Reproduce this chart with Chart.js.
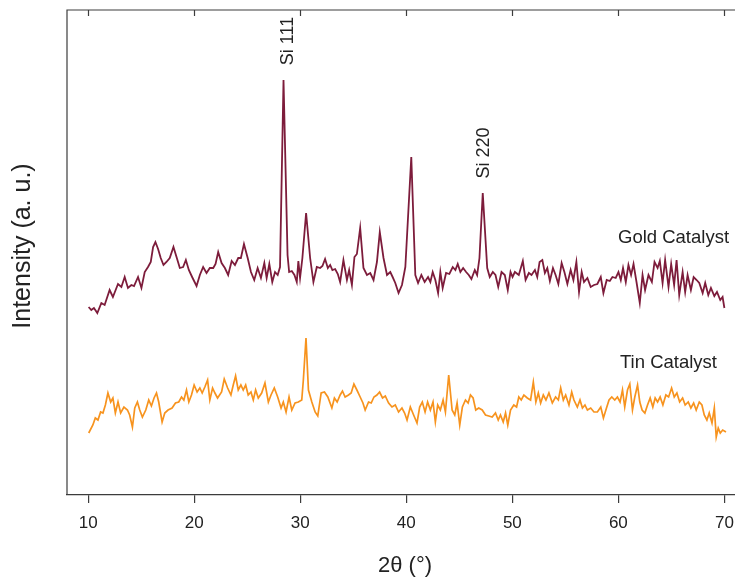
<!DOCTYPE html>
<html>
<head>
<meta charset="utf-8">
<script src="https://cdn.jsdelivr.net/npm/chart.js@4/dist/chart.umd.min.js"></script>
<style>
  body { margin: 0; background: #fff; }
  #wrap { width: 735px; height: 580px; }
</style>
</head>
<body>
<div id="wrap"><canvas id="xrd" width="735" height="580"></canvas></div>
<script>
// 2theta (deg) and intensity (a.u.)
const goldTheta = [10.04,10.29,10.54,10.86,11.24,11.55,12.02,12.33,12.81,13.13,13.44,13.75,14.07,14.32,14.70,15.02,15.33,15.64,15.90,16.12,16.34,16.59,16.84,17.10,17.38,17.69,18.04,18.33,18.64,18.95,19.21,19.49,19.80,20.22,20.53,20.84,21.16,21.47,21.79,22.01,22.26,22.58,22.89,23.20,23.53,23.84,24.15,24.40,24.69,25.04,25.35,25.66,25.98,26.29,26.61,26.83,27.08,27.36,27.62,27.87,28.09,28.42,28.80,28.95,29.20,29.45,29.67,29.82,29.98,30.20,30.55,30.93,31.24,31.56,31.87,32.09,32.34,32.60,32.82,33.03,33.29,33.54,33.76,34.07,34.40,34.61,34.87,35.11,35.34,35.65,35.96,36.29,36.60,36.91,37.23,37.50,37.85,38.18,38.49,38.71,38.96,39.27,39.59,39.91,40.47,40.85,41.11,41.42,41.73,42.05,42.27,42.49,42.74,43.00,43.21,43.43,43.75,44.06,44.38,44.63,44.85,45.10,45.36,45.64,45.89,46.14,46.46,46.68,46.90,47.21,47.63,47.87,48.16,48.41,48.67,48.98,49.29,49.57,49.83,50.02,50.24,50.61,50.99,51.25,51.56,51.81,52.13,52.35,52.57,52.83,53.07,53.30,53.54,53.83,54.08,54.34,54.65,54.91,55.19,55.50,55.76,56.04,56.29,56.54,56.76,57.08,57.39,57.70,58.02,58.34,58.59,58.90,59.19,59.44,59.75,60.01,60.23,60.44,60.70,60.95,61.20,61.43,61.71,62.02,62.28,62.52,62.84,63.16,63.41,63.70,63.91,64.17,64.41,64.73,64.98,65.26,65.49,65.74,66.06,66.30,66.53,66.84,67.10,67.38,67.63,67.95,68.19,68.48,68.73,69.05,69.30,69.61,69.83,70.00];
const goldIntensity = [188,185,187,182,192,190,205,198,211,208,218,207,210,209,218,207,223,228,233,248,253,246,237,230,233,237,248,238,227,228,235,225,218,209,220,228,222,227,227,231,243,232,227,220,234,230,237,237,251,237,223,215,227,217,232,217,231,213,223,220,228,415,240,223,224,220,213,234,217,237,282,237,213,228,227,229,236,227,230,225,226,221,213,235,215,225,210,238,241,267,227,220,222,215,233,263,237,220,223,218,212,202,210,228,338,220,212,220,213,218,213,223,215,202,223,207,222,221,228,225,231,223,227,223,220,216,225,220,237,302,227,218,223,220,208,223,220,205,223,218,223,220,234,215,222,220,225,218,233,235,222,227,214,227,220,211,232,223,211,225,215,233,203,223,213,217,208,210,211,218,202,215,214,218,217,223,215,227,213,230,220,231,213,192,220,205,220,213,233,227,234,212,235,208,231,210,235,200,223,203,220,205,218,215,212,202,212,200,207,199,203,195,198,187];

const tinTheta = [10.05,10.44,10.67,10.92,11.17,11.39,11.62,11.86,12.12,12.33,12.56,12.81,13.06,13.37,13.70,13.91,14.17,14.39,14.64,14.86,15.11,15.43,15.71,15.96,16.21,16.44,16.65,16.97,17.22,17.53,17.91,18.23,18.54,18.80,19.02,19.27,19.49,19.74,19.99,20.27,20.53,20.75,21.00,21.26,21.47,21.73,21.95,22.20,22.58,22.83,23.15,23.46,23.68,23.90,24.15,24.40,24.62,24.85,25.09,25.35,25.57,25.79,26.04,26.36,26.67,26.99,27.24,27.55,27.87,28.19,28.40,28.66,28.94,29.20,29.51,29.82,30.14,30.29,30.54,30.77,31.09,31.40,31.65,31.97,32.28,32.60,32.98,33.22,33.48,33.76,33.98,34.23,34.55,34.80,35.06,35.34,35.65,35.91,36.12,36.44,36.69,36.95,37.23,37.48,37.76,38.02,38.33,38.65,38.96,39.27,39.59,39.84,40.07,40.38,40.69,41.01,41.26,41.51,41.77,42.01,42.27,42.52,42.74,42.96,43.21,43.47,43.69,44.00,44.32,44.57,44.79,45.04,45.29,45.58,45.83,46.05,46.30,46.55,46.83,47.16,47.47,47.78,48.10,48.41,48.67,48.88,49.14,49.36,49.57,49.83,50.14,50.40,50.61,50.84,51.09,51.41,51.72,51.98,52.22,52.45,52.67,52.92,53.17,53.45,53.77,54.08,54.34,54.56,54.81,55.03,55.34,55.60,55.81,56.13,56.38,56.61,56.85,57.08,57.39,57.70,58.02,58.34,58.59,58.88,59.12,59.38,59.66,59.91,60.16,60.39,60.60,60.86,61.08,61.33,61.55,61.81,62.02,62.24,62.50,62.75,63.00,63.25,63.47,63.70,63.94,64.20,64.48,64.74,65.02,65.27,65.52,65.78,66.06,66.30,66.59,66.84,67.10,67.34,67.63,67.88,68.10,68.35,68.57,68.83,69.05,69.23,69.42,69.61,69.84,70.15];
const tinIntensity = [62,70,77,75,83,82,90,102,93,97,82,93,82,88,85,80,68,87,93,85,78,85,95,89,97,102,93,73,82,85,87,92,93,98,95,105,93,100,110,103,107,102,108,115,95,107,102,97,103,116,107,100,110,119,105,110,105,110,100,103,95,105,97,102,112,93,100,107,98,87,93,83,98,85,92,93,95,115,157,105,93,83,79,102,103,98,87,97,93,100,104,98,100,102,111,105,98,92,85,93,92,98,100,103,97,99,92,88,90,83,87,82,75,88,80,72,88,93,83,93,85,93,73,90,85,95,83,120,85,80,92,70,88,95,92,100,97,85,87,85,80,79,78,82,75,80,73,82,70,85,90,88,98,95,100,97,95,113,93,102,92,100,95,102,92,98,95,107,95,100,90,103,95,88,95,87,90,85,87,83,83,88,77,87,95,98,95,98,93,105,88,105,111,85,98,110,93,85,82,90,97,88,97,93,98,90,100,98,107,98,102,93,97,90,93,87,92,85,93,90,80,75,82,72,87,58,67,62,65,63];

const xTicks = [10, 20, 30, 40, 50, 60, 70];

const peakLabels = [
  { text: 'Si 111', theta: 28.42, dx: 5, y: 41 },
  { text: 'Si 220', theta: 47.21, dx: 1.5, y: 153 }
];
const seriesLabels = [
  { text: 'Gold Catalyst', x: 618, y: 243 },
  { text: 'Tin Catalyst', x: 620, y: 368 }
];

const toPoints = (xs, ys) => xs.map((v, i) => ({ x: v, y: ys[i] }));

const frame = {
  id: 'frame',
  afterDraw(chart) {
    const { ctx, chartArea: a, scales: { x } } = chart;
    ctx.save();
    ctx.strokeStyle = '#3c3c3c';
    ctx.lineWidth = 1.2;
    ctx.beginPath();
    ctx.moveTo(a.left, a.bottom);
    ctx.lineTo(a.left, a.top);
    ctx.lineTo(a.right, a.top);
    xTicks.forEach(t => {
      const px = Math.round(x.getPixelForValue(t)) + 0.5;
      ctx.moveTo(px, a.top);
      ctx.lineTo(px, a.top + 6);
    });
    ctx.stroke();

    ctx.fillStyle = '#222';
    ctx.font = '18.5px "Liberation Sans", Arial, sans-serif';
    ctx.textBaseline = 'alphabetic';
    ctx.textAlign = 'left';
    seriesLabels.forEach(l => ctx.fillText(l.text, l.x, l.y));

    ctx.font = '18px "Liberation Sans", Arial, sans-serif';
    ctx.textAlign = 'center';
    ctx.textBaseline = 'middle';
    peakLabels.forEach(l => {
      ctx.save();
      ctx.translate(x.getPixelForValue(l.theta) + l.dx, l.y);
      ctx.rotate(-Math.PI / 2);
      ctx.fillText(l.text, 0, 0);
      ctx.restore();
    });

    // axis titles
    ctx.font = '22px "Liberation Sans", Arial, sans-serif';
    ctx.fillText('2θ (°)', (a.left + a.right) / 2 + 4, 566);
    ctx.font = '25px "Liberation Sans", Arial, sans-serif';
    ctx.save();
    ctx.translate(23, 246);
    ctx.rotate(-Math.PI / 2);
    ctx.fillText('Intensity (a. u.)', 0, 0);
    ctx.restore();
    ctx.restore();
  }
};

new Chart(document.getElementById('xrd'), {
  type: 'line',
  data: {
    datasets: [
      {
        label: 'Gold Catalyst',
        data: toPoints(goldTheta, goldIntensity),
        borderColor: '#7d1c3b',
        borderWidth: 1.8,
        pointRadius: 0,
        tension: 0
      },
      {
        label: 'Tin Catalyst',
        data: toPoints(tinTheta, tinIntensity),
        borderColor: '#f7931e',
        borderWidth: 1.7,
        pointRadius: 0,
        tension: 0
      }
    ]
  },
  options: {
    responsive: false,
    animation: false,
    layout: { padding: { left: 67, top: 10, right: 0, bottom: 45 } },
    plugins: { legend: { display: false }, tooltip: { enabled: false } },
    scales: {
      x: {
        type: 'linear',
        min: 8,
        max: 71,
        afterFit: s => { s.height = 40; s.paddingLeft = 0; s.paddingRight = 0; },
        afterBuildTicks: s => { s.ticks = xTicks.map(v => ({ value: v })); },
        border: { display: true, color: '#3c3c3c', width: 1.2 },
        grid: { display: true, drawOnChartArea: false, drawTicks: true, tickLength: 8, color: '#3c3c3c', lineWidth: 1.2 },
        ticks: { color: '#222', padding: 10, font: { family: '"Liberation Sans", Arial, sans-serif', size: 17 } }
      },
      y: {
        display: false,
        min: 0,
        max: 485
      }
    }
  },
  plugins: [frame]
});
</script>
</body>
</html>
